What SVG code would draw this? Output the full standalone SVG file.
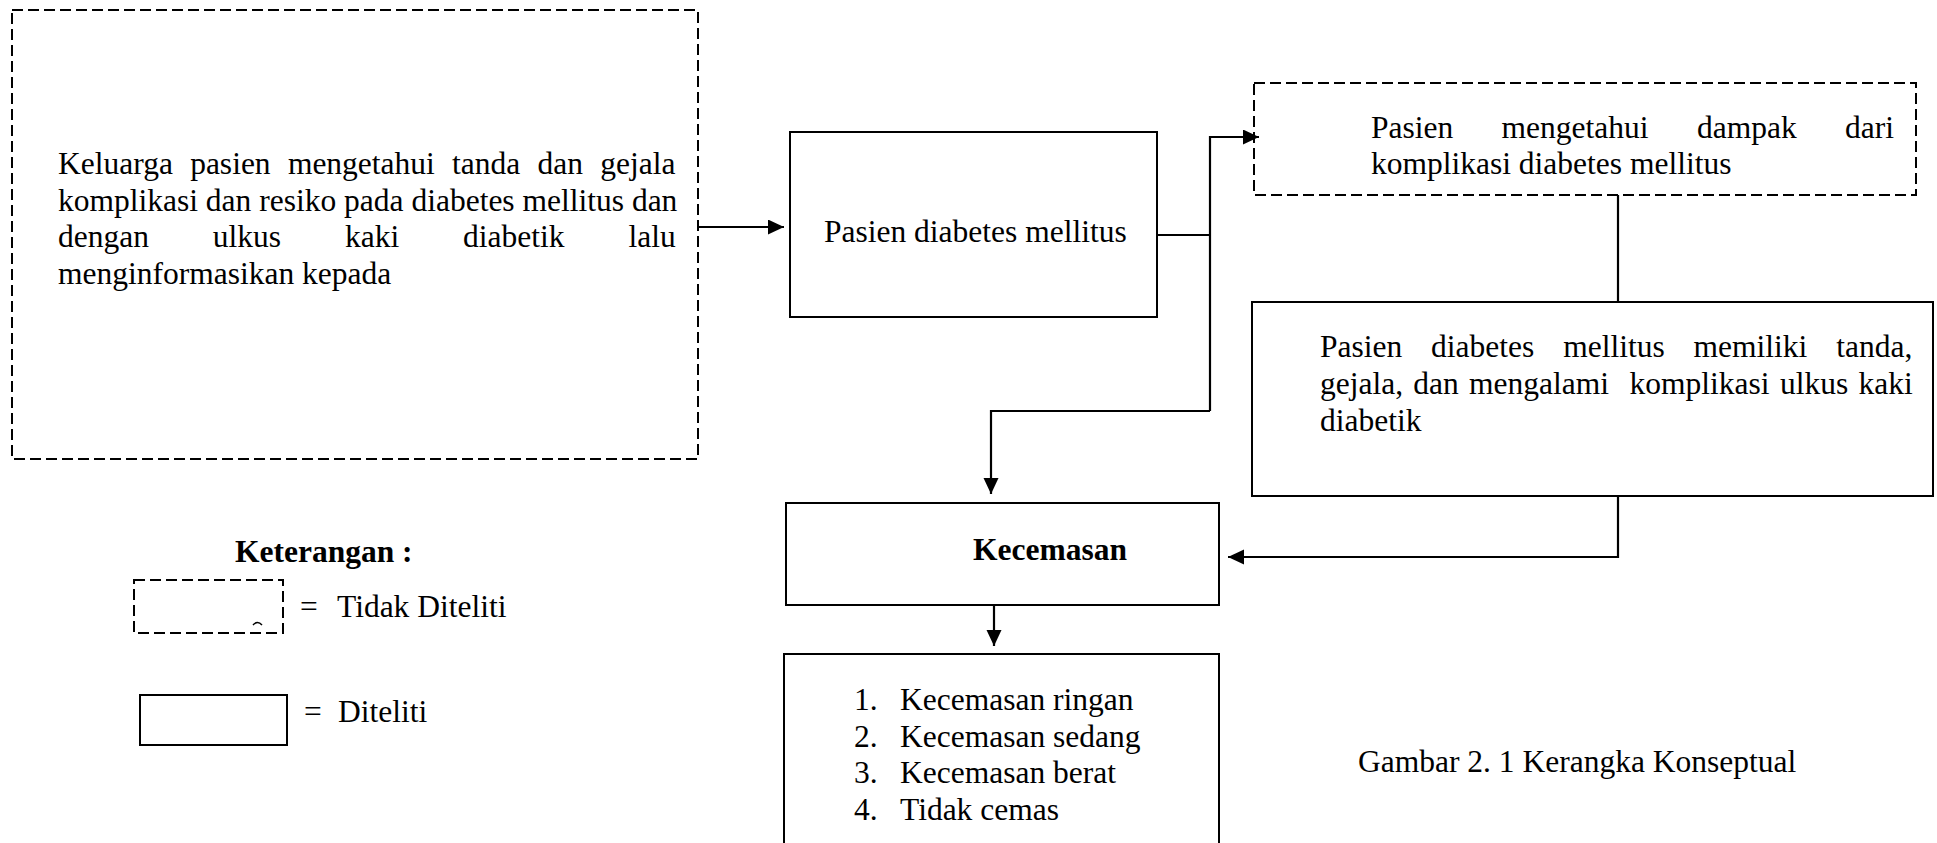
<svg xmlns="http://www.w3.org/2000/svg" width="1937" height="843" viewBox="0 0 1937 843">
<style>
text{font-family:"Liberation Serif","Times New Roman",serif;font-size:31.5px;fill:#000}
.b{font-weight:bold}
.box{fill:#fff;stroke:#000;stroke-width:2}
.dash{fill:#fff;stroke:#000;stroke-width:2;stroke-dasharray:11 5}
.con{fill:none;stroke:#000;stroke-width:2.2}
</style>
<defs>
<marker id="ah" markerUnits="userSpaceOnUse" markerWidth="17" markerHeight="16" refX="16" refY="7.5" orient="auto">
<path d="M0,0 L16,7.5 L0,15 z" fill="#000"/>
</marker>
</defs>
<rect width="1937" height="843" fill="#fff"/>

<g id="keluarga">
<rect class="dash" x="12" y="10" width="686" height="449"/>
<text x="58" y="174" word-spacing="9.4">Keluarga pasien mengetahui tanda dan gejala</text>
<text x="58" y="210.5">komplikasi dan resiko pada diabetes mellitus dan</text>
<text x="58" y="247" word-spacing="56">dengan ulkus kaki diabetik lalu</text>
<text x="58" y="283.5">menginformasikan kepada</text>
</g>

<g id="pasien-dm">
<rect class="box" x="790" y="132" width="367" height="185"/>
<text x="824" y="242">Pasien diabetes mellitus</text>
</g>

<g id="dampak">
<rect class="dash" x="1254" y="83" width="662" height="112"/>
<text x="1371" y="138" word-spacing="40.5">Pasien mengetahui dampak dari</text>
<text x="1371" y="174">komplikasi diabetes mellitus</text>
</g>

<g id="tanda-gejala">
<rect class="box" x="1252" y="302" width="681" height="194"/>
<text x="1320" y="357" word-spacing="21">Pasien diabetes mellitus memiliki tanda,</text>
<text x="1320" y="394" xml:space="preserve" word-spacing="2.4">gejala, dan mengalami  komplikasi ulkus kaki</text>
<text x="1320" y="431">diabetik</text>
</g>

<g id="kecemasan">
<rect class="box" x="786" y="503" width="433" height="102" stroke="#222" stroke-width="1.6"/>
<text class="b" x="973" y="560">Kecemasan</text>
</g>

<g id="tingkat">
<rect class="box" x="784" y="654" width="435" height="200"/>
<text x="854" y="710">1.</text><text x="900" y="710">Kecemasan ringan</text>
<text x="854" y="747">2.</text><text x="900" y="747">Kecemasan sedang</text>
<text x="854" y="783">3.</text><text x="900" y="783">Kecemasan berat</text>
<text x="854" y="820">4.</text><text x="900" y="820">Tidak cemas</text>
</g>

<g id="keterangan">
<text class="b" x="235" y="562">Keterangan :</text>
<rect class="dash" x="134" y="580" width="149" height="53"/>
<path d="M253,625 Q257.5,620 262,625" fill="none" stroke="#000" stroke-width="1.5"/>
<text x="300" y="617">=</text><text x="337" y="617">Tidak Diteliti</text>
<rect class="box" x="140" y="695" width="147" height="50"/>
<text x="304" y="722">=</text><text x="338" y="722">Diteliti</text>
</g>

<g id="caption">
<text x="1358" y="772">Gambar 2. 1 Kerangka Konseptual</text>
</g>

<g id="connectors">
<path class="con" d="M698,227 H784" marker-end="url(#ah)"/>
<path class="con" d="M1157,235 H1210"/>
<path class="con" d="M1210,411 V137 H1259" marker-end="url(#ah)"/>
<path class="con" d="M1210,411 H991 V494" marker-end="url(#ah)"/>
<path class="con" d="M1618,195 V302"/>
<path class="con" d="M1618,496 V557 H1228" marker-end="url(#ah)"/>
<path class="con" d="M994,605 V646" marker-end="url(#ah)"/>
</g>
</svg>
